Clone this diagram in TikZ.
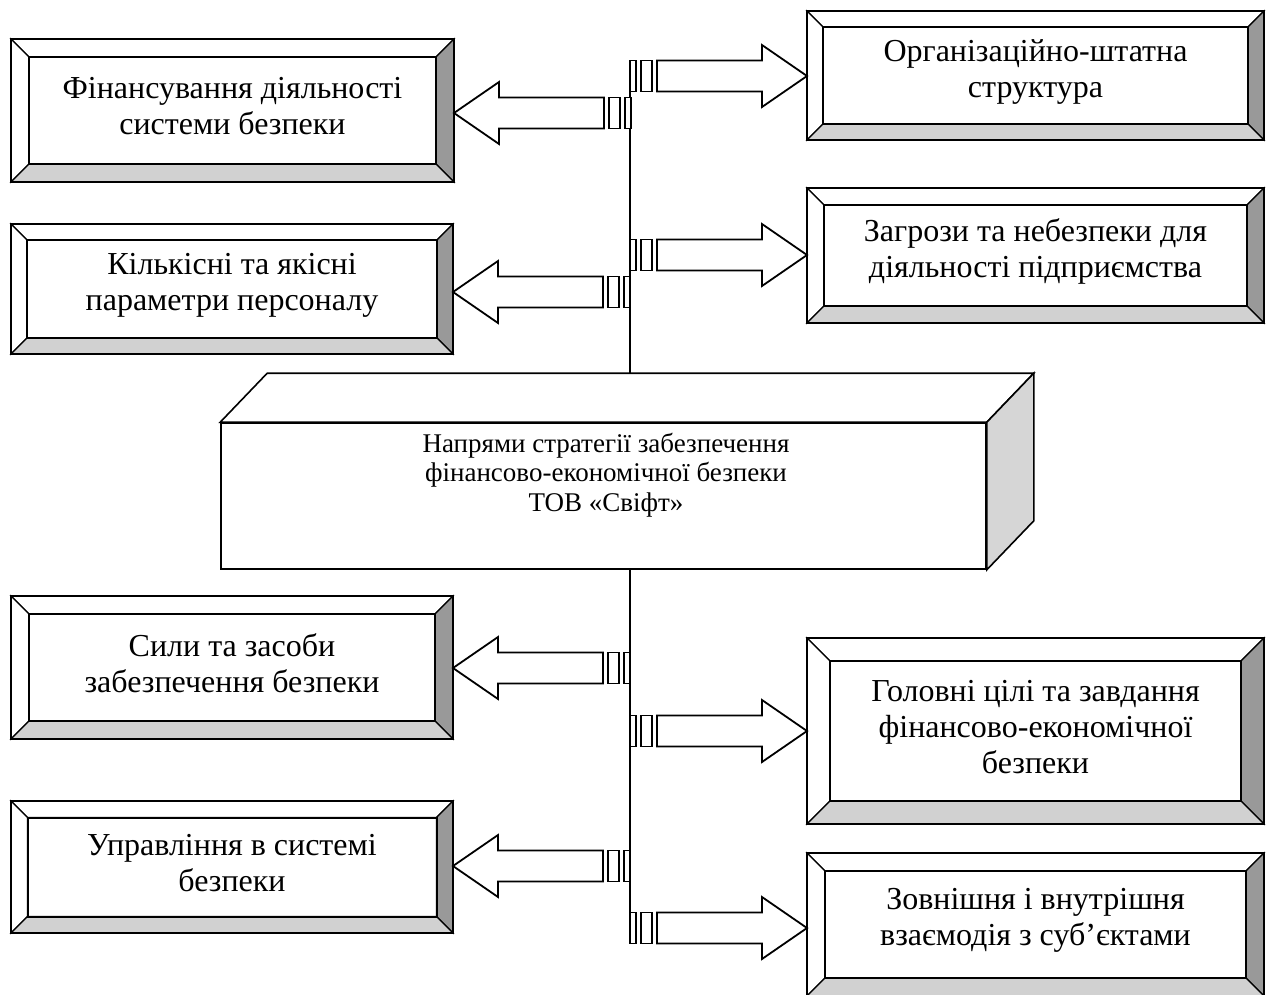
\documentclass[tikz,border=0pt]{standalone}
\usepackage{fontspec}
\setmainfont{Liberation Serif}
\usetikzlibrary{calc}

\definecolor{bevdark}{gray}{0.6}
\definecolor{bevlight}{gray}{0.82}
\definecolor{sideface}{gray}{0.84}

\tikzset{
  bevelface/.style={draw=black, line width=1.1pt, line join=miter},
  bevelrim/.style={draw=black, line width=2pt},
  boxframe/.style={draw=black, line width=2pt, rectangle, inner sep=0pt, outer sep=0pt},
  boxtext/.style={font=\fontsize{32}{36}\selectfont, align=center, text=black, inner sep=0pt},
  coretext/.style={font=\fontsize{27}{29.5}\selectfont, align=center, text=black, inner sep=0pt},
  blockarrow/.style={draw=black, fill=white, line width=1.8pt, line join=miter},
  spine/.style={draw=black, line width=1.5pt},
}

% bevelled frame: name, x1, y1, x2, y2, bevel width, label
\newcommand\bevbox[7]{%
  \pgfmathsetmacro\bxa{#2+#6}\pgfmathsetmacro\bya{#3+#6}%
  \pgfmathsetmacro\bxb{#4-#6}\pgfmathsetmacro\byb{#5-#6}%
  \pgfmathsetmacro\bw{#4-#2}\pgfmathsetmacro\bh{#5-#3}%
  \filldraw[bevelface, fill=white] (#2,#3) -- (#4,#3) -- (\bxb,\bya) -- (\bxa,\bya) -- cycle;
  \filldraw[bevelface, fill=white] (#2,#3) -- (\bxa,\bya) -- (\bxa,\byb) -- (#2,#5) -- cycle;
  \filldraw[bevelface, fill=bevdark] (#4,#3) -- (#4,#5) -- (\bxb,\byb) -- (\bxb,\bya) -- cycle;
  \filldraw[bevelface, fill=bevlight] (#2,#5) -- (#4,#5) -- (\bxb,\byb) -- (\bxa,\byb) -- cycle;
  \draw[bevelrim] (\bxa,\bya) rectangle (\bxb,\byb);
  \node[boxframe, minimum width=\bw pt, minimum height=\bh pt] (#1) at ({(#2+#4)/2},{(#3+#5)/2}) {};
  \node[boxtext] (#1-text) at ([yshift=4pt]#1.center) {#7};
}

% striped block arrow pointing left to a box, tail on the spine
\newcommand\stripeleft[2]{%
  \begin{scope}[shift={(#1.east |- 0,#2)}]
    \draw[blockarrow] (0,0) -- (45,-31) -- (45,-15.5) -- (150,-15.5) -- (150,15.5) -- (45,15.5) -- (45,31) -- cycle;
    \draw[blockarrow] (155,-15.5) rectangle (166,15.5);
    \draw[blockarrow] (171,-15.5) rectangle (177,15.5);
  \end{scope}}

% striped block arrow pointing right to a box, tail on the spine
\newcommand\striperight[2]{%
  \begin{scope}[shift={(#1.west |- 0,#2)}]
    \draw[blockarrow] (0,0) -- (-45,-31) -- (-45,-15.5) -- (-150,-15.5) -- (-150,15.5) -- (-45,15.5) -- (-45,31) -- cycle;
    \draw[blockarrow] (-155,-15.5) rectangle (-166,15.5);
    \draw[blockarrow] (-171,-15.5) rectangle (-177,15.5);
  \end{scope}}

\begin{document}
\begin{tikzpicture}[x=1pt, y=-1pt]
  \useasboundingbox[fill=white] (0,0) rectangle (1272,994);

  % spine through the middle
  \coordinate (spinetop) at (630,92);
  \coordinate (spinebottom) at (630,943);

  % central block
  \node[draw=black, line width=1.6pt, fill=white, rectangle, inner sep=0pt,
        minimum width=765pt, minimum height=146pt] (core) at (603.5,496) {};
  \coordinate (coreback) at ($(core.north west)+(47,-49)$);
  \coordinate (corebackr) at ($(core.north east)+(47,-49)$);
  \filldraw[draw=black, line width=1.6pt, fill=white, line join=miter]
    (core.north west) -- (coreback) -- (corebackr) -- (core.north east) -- cycle;
  \filldraw[draw=black, line width=1.6pt, fill=sideface, line join=miter]
    (core.north east) -- (corebackr) -- ($(core.south east)+(47,-49)$) -- (core.south east) -- cycle;
  \node[coretext] (core-text) at (606,475)
    {Напрями стратегії забезпечення\\фінансово-економічної безпеки\\ТОВ «Свіфт»};

  \draw[spine] (spinetop) -- (spinetop |- coreback);
  \draw[spine] (spinebottom |- core.south) -- (spinebottom);

  % left column
  \bevbox{fin}{11}{39}{454}{182}{18}{Фінансування діяльності\\системи безпеки}
  \bevbox{kil}{11}{224}{453}{354}{16}{Кількісні та якісні\\параметри персоналу}
  \bevbox{syl}{11}{596}{453}{739}{18}{Сили та засоби\\забезпечення безпеки}
  \bevbox{upr}{11}{801}{453}{933}{16.5}{Управління в системі\\безпеки}

  % right column
  \bevbox{org}{807}{11}{1264}{140}{16}{Організаційно-штатна\\структура}
  \bevbox{zag}{807}{188}{1264}{323}{17}{Загрози та небезпеки для\\діяльності підприємства}
  \bevbox{gol}{807}{638}{1264}{824}{23}{Головні цілі та завдання\\фінансово-економічної\\безпеки}
  \bevbox{zov}{807}{853}{1264}{996}{18}{Зовнішня і внутрішня\\взаємодія з суб’єктами}

  % arrows from the spine
  \striperight{org}{76}
  \stripeleft{fin}{113}
  \striperight{zag}{255}
  \stripeleft{kil}{292}
  \stripeleft{syl}{668}
  \striperight{gol}{731}
  \stripeleft{upr}{866}
  \striperight{zov}{928}
\end{tikzpicture}
\end{document}
